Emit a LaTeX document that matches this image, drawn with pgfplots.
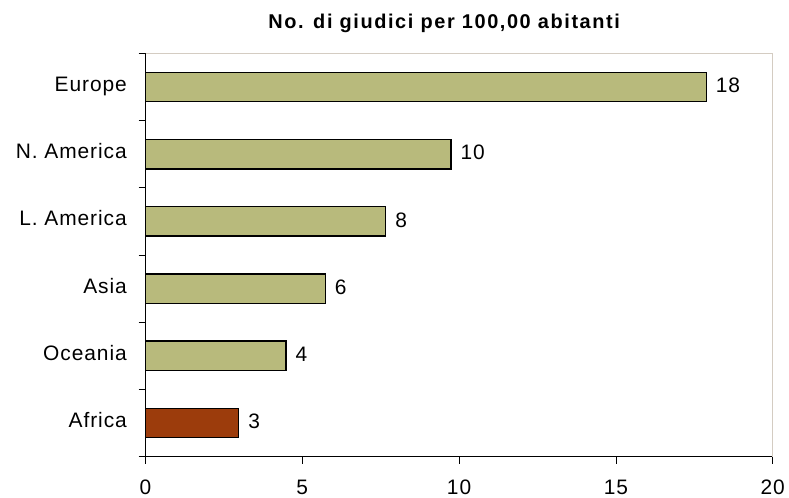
\documentclass[border=0pt]{standalone}
\usepackage{fontspec}
\setmainfont[LetterSpace=4.5]{Liberation Sans}
\newfontfamily\titlefont[LetterSpace=8]{Liberation Sans}
\usepackage{pgfplots}
\pgfplotsset{compat=1.18}
\definecolor{barol}{RGB}{184,186,124}
\definecolor{barrd}{RGB}{156,60,12}
\definecolor{framecol}{RGB}{212,204,194}

% one row per region, 0 = bottom
\pgfplotstableread{
y x lab
5 17.88 18
4 9.74 10
3 7.66 8
2 5.73 6
1 4.48 4
}\dataol
\pgfplotstableread{
y x lab
0 2.97 3
}\datard

\begin{document}
\begin{tikzpicture}
\useasboundingbox (0,0) rectangle (789bp,498bp);
\begin{axis}[
  at={(145.5bp,41.3bp)}, anchor=south west,
  scale only axis, width=627.2bp, height=403.4bp,
  xbar, bar width=29.5bp, bar shift=0pt,
  xmin=0, xmax=20, ymin=-0.5, ymax=5.5,
  enlargelimits=false,
  axis lines=left,
  axis line style={black, line width=0.8bp, -},
  xtick={0,5,...,20},
  ytick={0,...,5},
  yticklabels={Africa,Oceania,Asia,L. America,N. America,Europe},
  minor ytick={-0.5,0.5,...,5.5},
  tick align=outside,
  major tick length=7bp, minor tick length=7bp,
  tick style={black, line width=0.8bp},
  major y tick style={draw=none},
  ticklabel style={font=\fontsize{21}{25}\selectfont},
  /pgf/number format/assume math mode=true,
  xticklabel style={anchor=north, inner sep=0pt, yshift=-16.3bp},
  yticklabel style={anchor=base east, inner sep=0pt, xshift=-11.5bp, yshift=-4.5bp},
  nodes near coords, point meta=explicit symbolic,
  nodes near coords style={anchor=west, inner sep=0pt, xshift=9bp, yshift=1.5bp, font=\fontsize{21}{25}\selectfont},
  clip=false,
]
\draw[framecol, line width=1.2bp] (axis cs:0,5.5) -- (axis cs:20,5.5) -- (axis cs:20,-0.5);
\addplot[fill=barol, draw=black, line width=1.3bp] table[x=x, y=y, meta=lab] {\dataol};
\addplot[fill=barrd, draw=black, line width=1.3bp] table[x=x, y=y, meta=lab] {\datard};
\end{axis}
\node[anchor=base, font=\titlefont\bfseries\fontsize{20}{24}\selectfont] at (444.2bp,469.7bp) {No. di giudici per 100,00 abitanti};
\end{tikzpicture}
\end{document}
